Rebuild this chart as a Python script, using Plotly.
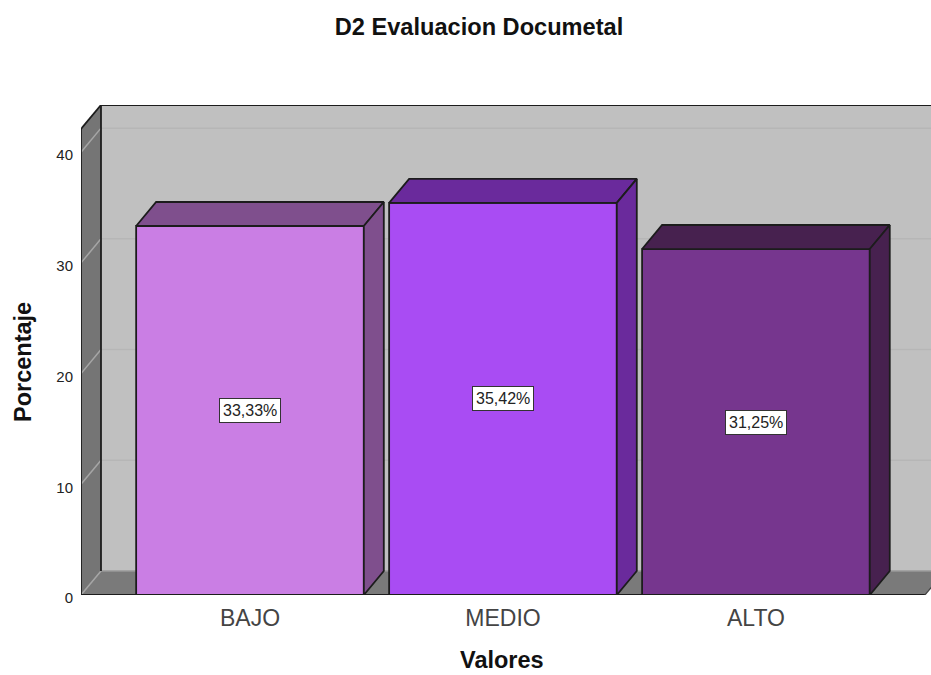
import plotly.graph_objects as go

# Chart content
categories = ["BAJO", "MEDIO", "ALTO"]
percentages = [33.33, 35.42, 31.25]
value_labels = ["33,33%", "35,42%", "31,25%"]
y_ticks = [0, 10, 20, 30, 40]

# Face colours of each bar: front, then the shaded top and side
front_colors = ["#CA7EE4", "#A94CF3", "#76368E"]
shade_colors = ["#7F4F8D", "#6A2A9C", "#47214F"]

# Extrusion of the box and the bars, in axis units
DEPTH_X = 0.079
DEPTH_Y = 2.17
BAR_WIDTH = 0.9
X_MIN, X_MAX = -0.668, 2.692
FLOOR_END = 2.668
Y_MAX = 44.26
WALL_TOP = Y_MAX - DEPTH_Y

EDGE = "#1c1c1c"
EDGE_WIDTH = 1.8
positions = list(range(len(categories)))


def polygon(xs, ys, fill):
    """Borderless wall panel sitting underneath the bars."""
    path = "M " + " L ".join(f"{x},{y}" for x, y in zip(xs, ys)) + " Z"
    return dict(type="path", path=path, xref="x", yref="y", layer="below",
                fillcolor=fill, line=dict(width=0))


def segment(x0, y0, x1, y1, color, width=1.5):
    return dict(type="line", x0=x0, y0=y0, x1=x1, y1=y1, xref="x", yref="y",
                layer="below", line=dict(color=color, width=width))


back_left = X_MIN + DEPTH_X
shapes = [
    # Back wall, left wall and floor of the 3D box
    polygon([back_left, X_MAX + 0.2, X_MAX + 0.2, back_left],
            [DEPTH_Y, DEPTH_Y, Y_MAX, Y_MAX], "#C0C0C0"),
    polygon([X_MIN, back_left, back_left, X_MIN],
            [0, DEPTH_Y, Y_MAX, WALL_TOP], "#757575"),
    polygon([X_MIN, back_left, FLOOR_END + DEPTH_X, FLOOR_END],
            [0, DEPTH_Y, DEPTH_Y, 0], "#7A7A7A"),
]
for tick in y_ticks[1:]:
    shapes.append(segment(back_left, tick + DEPTH_Y, X_MAX, tick + DEPTH_Y, "#B6B6B6"))
    shapes.append(segment(X_MIN, tick, back_left, tick + DEPTH_Y, "#A6A6A6"))
shapes += [
    # Pale seams where the floor meets the walls
    segment(X_MIN, 0, back_left, DEPTH_Y, "#A6A6A6"),
    segment(back_left, DEPTH_Y, X_MAX, DEPTH_Y, "#9A9A9A"),
    # Dark outline of the box
    segment(X_MIN, 0, X_MIN, WALL_TOP, EDGE, EDGE_WIDTH),
    segment(X_MIN, WALL_TOP, back_left, Y_MAX, EDGE, EDGE_WIDTH),
    segment(back_left, DEPTH_Y, back_left, Y_MAX, EDGE, EDGE_WIDTH),
    segment(back_left, Y_MAX, X_MAX, Y_MAX, EDGE, EDGE_WIDTH),
    segment(X_MIN, 0, FLOOR_END, 0, EDGE, EDGE_WIDTH),
    segment(FLOOR_END, 0, FLOOR_END + DEPTH_X, DEPTH_Y, "#444444", 1.2),
]

fig = go.Figure()

# Front faces
fig.add_trace(go.Bar(
    x=positions, y=percentages, width=BAR_WIDTH,
    marker=dict(color=front_colors, line=dict(color=EDGE, width=EDGE_WIDTH)),
    hoverinfo="skip", showlegend=False,
))

# Top and side faces follow each bar's value
for pos, value, shade in zip(positions, percentages, shade_colors):
    left, right = pos - BAR_WIDTH / 2, pos + BAR_WIDTH / 2
    faces = [
        ([left, left + DEPTH_X, right + DEPTH_X, right, left],
         [value, value + DEPTH_Y, value + DEPTH_Y, value, value]),
        ([right, right + DEPTH_X, right + DEPTH_X, right, right],
         [0, DEPTH_Y, value + DEPTH_Y, value, 0]),
    ]
    for xs, ys in faces:
        fig.add_trace(go.Scatter(
            x=xs, y=ys, mode="lines", fill="toself", fillcolor=shade,
            line=dict(color=EDGE, width=EDGE_WIDTH), hoverinfo="skip",
            showlegend=False, cliponaxis=False,
        ))

# Value boxes in the middle of each bar
annotations = [
    dict(x=pos, y=value / 2, xref="x", yref="y", text=label, showarrow=False,
         font=dict(family="Liberation Sans", size=16, color="#222222"),
         bgcolor="white", bordercolor="#333333", borderwidth=1, borderpad=3)
    for pos, value, label in zip(positions, percentages, value_labels)
]

# Axis titles, placed relative to the plot area
title_font = dict(family="Liberation Sans", size=23.5, color="#111111")
annotations += [
    dict(xref="paper", yref="paper", x=(502 - 81) / 850, y=(595 - 660) / 490,
         xanchor="center", yanchor="middle",
         text="<b>Valores</b>", showarrow=False, font=title_font),
    dict(xref="paper", yref="paper", x=(23 - 81) / 850, y=(595 - 362) / 490,
         xanchor="center", yanchor="middle",
         text="<b>Porcentaje</b>", textangle=-90, showarrow=False, font=title_font),
]

fig.update_layout(
    width=931, height=675,
    margin=dict(l=81, r=0, t=105, b=80),
    paper_bgcolor="white", plot_bgcolor="white",
    font=dict(family="Liberation Sans", color="#222222"),
    title=dict(text="<b>D2 Evaluacion Documetal</b>", x=479 / 931, xanchor="center",
               y=1 - 27 / 675, yanchor="middle",
               font=dict(size=23.6, color="#111111")),
    xaxis=dict(range=[X_MIN, X_MAX], tickmode="array", tickvals=positions,
               ticktext=categories, tickfont=dict(size=23, color="#444444"),
               showgrid=False, zeroline=False, showline=False, ticks="",
               ticklabelstandoff=7),
    yaxis=dict(range=[0, Y_MAX], tickmode="array", tickvals=y_ticks,
               tickfont=dict(size=15, color="#222222"),
               showgrid=False, zeroline=False, showline=False,
               ticks="outside", ticklen=4, tickcolor="rgba(0,0,0,0)",
               ticklabelshift=3),
    shapes=shapes,
    annotations=annotations,
)

fig.write_html("out.html")
